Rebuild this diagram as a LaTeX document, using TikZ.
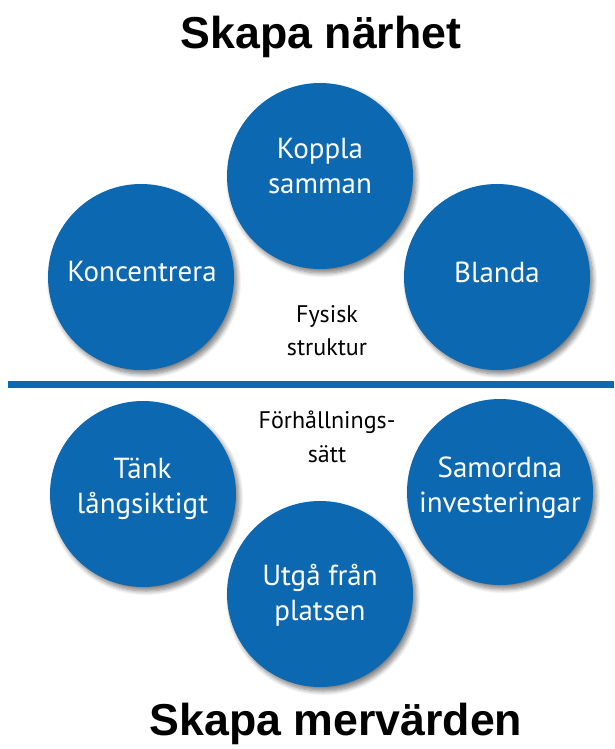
\documentclass[tikz,border=0pt]{standalone}
\usepackage{fontspec}
\setmainfont{PT Sans}
\newfontfamily\titlefont{Liberation Sans}
\usetikzlibrary{shadows.blur}
\definecolor{cblue}{HTML}{0C68B1}
\tikzset{
  disc/.style={circle, fill=cblue, minimum size=186pt, inner sep=0pt,
    blur shadow={shadow xshift=3pt, shadow yshift=-4pt, shadow blur steps=8, shadow blur radius=4.5pt, shadow opacity=50}},
  disctext/.style={text=white, font=\fontsize{29}{35}\selectfont, align=center, inner sep=0pt, anchor=base},
  label/.style={text=black, font=\fontsize{24}{33}\selectfont, align=center, inner sep=0pt, anchor=base},
  title/.style={font=\titlefont\bfseries\fontsize{44.7}{46}\selectfont, inner sep=0pt, anchor=base}
}
\begin{document}
\begin{tikzpicture}[x=1pt,y=-1pt]
\useasboundingbox (0,0) rectangle (614,749);
\node[title] (t1) at (321,49) {Skapa närhet};
\node[title] (t2) at (336,735) {Skapa mervärden};
\node[disc] (koppla) at (320,176) {};
\node[disc] (konc) at (141,277) {};
\node[disc] (blanda) at (497,277) {};
\node[disc] (tank) at (143,494) {};
\node[disc] (samordna) at (500,492) {};
\node[disc] (utga) at (320,594) {};
\node[disctext] (kopplaA) at (320,158) {Koppla};
\node[disctext] (kopplaB) at (320,193) {samman};
\node[disctext] (koncA) at (142,281) {Koncentrera};
\node[disctext] (blandaA) at (497,282) {Blanda};
\node[disctext] (tankA) at (142.5,478) {Tänk};
\node[disctext] (tankB) at (142.5,513) {långsiktigt};
\node[disctext] (samA) at (500,477) {Samordna};
\node[disctext] (samB) at (500,512) {investeringar};
\node[disctext] (utgaA) at (320,585) {Utgå från};
\node[disctext] (utgaB) at (320,620) {platsen};
\coordinate (l1) at (8,384.5);
\coordinate (l2) at (614,384.5);
\draw[cblue, line width=7pt] (l1) -- (l2);
\node[label] (fysA) at (327,322) {Fysisk};
\node[label] (fysB) at (327,355) {struktur};
\node[label] (forhA) at (327,428) {Förhållnings-};
\node[label] (forhB) at (327,462) {sätt};
\end{tikzpicture}
\end{document}
